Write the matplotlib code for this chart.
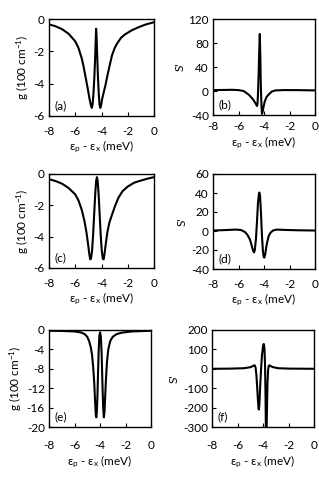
import matplotlib
matplotlib.use("Agg")
import matplotlib.pyplot as plt

plt.rcParams['font.family'] = ['Lato', 'DejaVu Sans']
plt.rcParams['mathtext.fontset'] = 'custom'
plt.rcParams['mathtext.rm'] = 'Lato'
plt.rcParams['mathtext.it'] = 'Lato:italic'
plt.rcParams['axes.unicode_minus'] = False
plt.rcParams['font.size'] = 8.5

# (a) gain
xa = [-8.0, -7.5, -7.0, -6.5, -6.0, -5.75, -5.5, -5.35, -5.2, -5.05, -4.92, -4.82, -4.74,
      -4.68, -4.62, -4.55, -4.49, -4.44, -4.41, -4.38, -4.33, -4.27, -4.21, -4.15, -4.09,
      -4.02, -3.95, -3.85, -3.7, -3.55, -3.4, -3.2, -3.0, -2.8, -2.5, -2.2, -1.7, -1.15, -0.6, 0.0]
ya = [-0.33, -0.45, -0.63, -0.92, -1.38, -1.8, -2.45, -3.0, -3.65, -4.3, -4.9, -5.3, -5.5,
      -5.3, -4.7, -3.7, -2.5, -1.3, -0.6, -1.0, -2.2, -3.6, -4.6, -5.3, -5.5,
      -5.3, -4.95, -4.6, -4.1, -3.5, -2.95, -2.25, -1.8, -1.5, -1.15, -0.95, -0.7, -0.5, -0.33, -0.2]

# (b) S'
xb = [-8.0, -7.0, -6.5, -6.0, -5.6, -5.2, -4.94, -4.8, -4.68, -4.6, -4.55, -4.51, -4.47,
      -4.42, -4.37, -4.33, -4.29, -4.25, -4.2, -4.16, -4.12, -4.05, -3.95, -3.8, -3.64,
      -3.4, -3.1, -2.5, -1.5, 0.0]
yb = [1.5, 1.8, 2.0, 1.5, 0.0, -6.0, -12.0, -16.0, -20.0, -23.0, -25.0, -22.0, -5.0,
      30.0, 70.0, 95.0, 60.0, 10.0, -25.0, -38.0, -36.0, -28.0, -18.0, -10.0, -6.0,
      -1.0, 1.0, 1.5, 1.5, 1.0]

# (c) gain
xc = [-8.0, -7.5, -7.0, -6.5, -6.0, -5.75, -5.5, -5.3, -5.15, -5.02, -4.93, -4.86, -4.8,
      -4.72, -4.64, -4.56, -4.48, -4.41, -4.35, -4.29, -4.22, -4.14, -4.06, -3.98, -3.9,
      -3.84, -3.77, -3.68, -3.55, -3.4, -3.2, -2.95, -2.7, -2.4, -2.0, -1.5, -1.0, -0.5, 0.0]
yc = [-0.33, -0.45, -0.62, -0.9, -1.3, -1.7, -2.3, -3.0, -3.7, -4.5, -5.1, -5.45, -5.4,
      -4.9, -3.9, -2.6, -1.3, -0.45, -0.2, -0.45, -1.3, -2.6, -3.9, -4.9, -5.4,
      -5.45, -5.1, -4.5, -3.7, -3.1, -2.6, -2.0, -1.5, -1.1, -0.8, -0.55, -0.42, -0.3, -0.2]

# (d) S'
xd = [-8.0, -7.0, -6.2, -5.8, -5.5, -5.3, -5.1, -4.95, -4.85, -4.78, -4.72, -4.63, -4.55,
      -4.47, -4.4, -4.36, -4.31, -4.24, -4.16, -4.08, -4.02, -3.97, -3.9, -3.8, -3.65,
      -3.5, -3.3, -3.0, -2.5, -1.5, 0.0]
yd = [0.5, 1.0, 1.5, 1.0, -1.0, -4.0, -9.0, -16.0, -21.0, -22.5, -20.0, -8.0, 10.0,
      30.0, 39.0, 40.5, 37.0, 20.0, -5.0, -22.0, -27.5, -28.0, -24.0, -15.0, -6.0,
      -2.0, 0.5, 1.5, 1.2, 0.8, 0.5]

# (e) gain
xe = [-8.0, -7.0, -6.0, -5.5, -5.2, -5.0, -4.85, -4.72, -4.62, -4.53, -4.45, -4.38, -4.33,
      -4.29, -4.25, -4.2, -4.15, -4.1, -4.05, -3.99, -3.93, -3.87, -3.81, -3.75, -3.7,
      -3.65, -3.6, -3.53, -3.45, -3.35, -3.2, -3.0, -2.7, -2.3, -1.5, 0.0]
ye = [-0.15, -0.2, -0.3, -0.5, -0.85, -1.4, -2.3, -3.6, -5.2, -7.8, -11.0, -15.0, -17.5,
      -18.0, -17.0, -13.5, -8.5, -4.0, -1.2, -0.5, -1.5, -5.0, -11.0, -16.0, -18.0,
      -17.0, -14.0, -10.0, -6.5, -4.0, -2.3, -1.4, -0.85, -0.55, -0.3, -0.15]

# (f) S'
xf = [-8.0, -6.5, -5.5, -5.0, -4.8, -4.7, -4.64, -4.58, -4.52, -4.46, -4.4, -4.35, -4.32,
      -4.28, -4.22, -4.15, -4.08, -4.0, -3.94, -3.89, -3.84, -3.8, -3.77, -3.74, -3.7,
      -3.65, -3.6, -3.55, -3.48, -3.4, -3.2, -2.8, -2.0, 0.0]
yf = [0.0, 1.0, 3.0, 8.0, 14.0, 18.0, 17.0, 5.0, -30.0, -90.0, -160.0, -205.0, -210.0,
      -180.0, -90.0, 0.0, 70.0, 115.0, 128.0, 110.0, 20.0, -150.0, -350.0, -420.0, -250.0,
      -80.0, -5.0, 15.0, 18.0, 14.0, 8.0, 3.0, 1.0, 0.0]

xticks = [-8, -6, -4, -2, 0]
g_label = 'g (100 cm$^{-1}$)'
s_label = "S'"
x_label = 'ε$_\\mathrm{p}$ - ε$_\\mathrm{x}$ (meV)'

W, H = 319, 488
fig = plt.figure(figsize=(W / 100, H / 100), dpi=100)

# (x data, y data, y ticks, y label, tag, box in pixels: left, right, top, bottom, x tick pad)
panels = [
    (xa, ya, [-6, -4, -2, 0], g_label, '(a)', (49, 154, 19, 116, 7)),
    (xb, yb, [-40, 0, 40, 80, 120], s_label, '(b)', (213, 315, 19, 115, 4.5)),
    (xc, yc, [-6, -4, -2, 0], g_label, '(c)', (49, 154, 174, 268, 7)),
    (xd, yd, [-40, -20, 0, 20, 40, 60], s_label, '(d)', (213, 315, 174, 269, 7)),
    (xe, ye, [-20, -16, -12, -8, -4, 0], g_label, '(e)', (49, 151, 330, 427, 9.5)),
    (xf, yf, [-300, -200, -100, 0, 100, 200], s_label, '(f)', (212, 314, 330, 427, 9.5)),
]

for x, y, yt, ylab, tag, (l, r, t, b, xpad) in panels:
    ax = fig.add_axes([l / W, 1 - b / H, (r - l) / W, (b - t) / H])
    ax.plot(x, y, color='black', lw=1.5)
    ax.set_xlim(-8, 0)
    ax.set_ylim(yt[0], yt[-1])
    ax.set_xticks(xticks)
    ax.set_yticks(yt)
    ax.tick_params(direction='in', length=3, width=0.8, labelsize=8.5)
    ax.tick_params(axis='y', pad=3)
    ax.tick_params(axis='x', pad=xpad)
    for s in ax.spines.values():
        s.set_linewidth(1.0)
    ax.set_ylabel(ylab, fontsize=8.5, labelpad=2)
    ax.set_xlabel(x_label, fontsize=8.5, labelpad=1.5)
    ax.text(0.05, 0.05, tag, transform=ax.transAxes, fontsize=8.5, va='bottom', ha='left')

fig.savefig('out.png', dpi=100)
